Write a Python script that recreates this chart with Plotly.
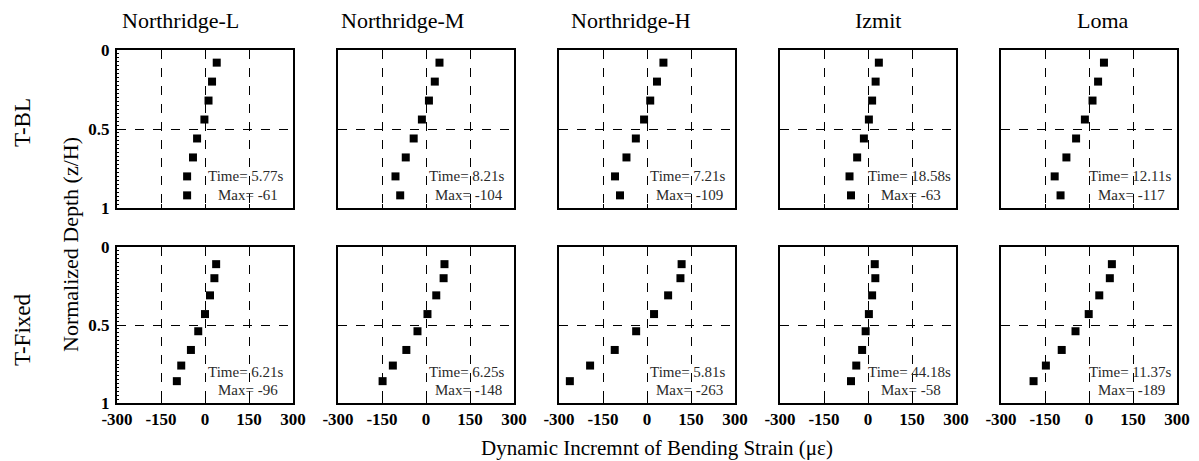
import plotly.graph_objects as pgo
from plotly.subplots import make_subplots

quakes = ["Northridge-L", "Northridge-M", "Northridge-H", "Izmit", "Loma"]
rows_lbl = ["T-BL", "T-Fixed"]

depth_bl = [0.08, 0.20, 0.32, 0.44, 0.56, 0.68, 0.80, 0.92]
depth_fx = [0.11, 0.20, 0.31, 0.43, 0.54, 0.66, 0.76, 0.86]

strain_bl = [
    [40, 24, 12, -2, -27, -41, -61, -61],
    [46, 30, 10, -14, -42, -69, -104, -88],
    [56, 34, 11, -10, -38, -70, -109, -92],
    [37, 26, 14, 3, -14, -37, -63, -58],
    [51, 31, 12, -14, -44, -77, -117, -97],
]
strain_fx = [
    [38, 32, 17, 0, -23, -48, -81, -96],
    [63, 60, 35, 5, -29, -67, -113, -148],
    [118, 114, 72, 24, -37, -110, -194, -263],
    [23, 25, 14, 3, -8, -20, -40, -58],
    [78, 71, 35, -1, -46, -93, -147, -189],
]
time_bl = ["5.77s", "8.21s", "7.21s", "18.58s", "12.11s"]
max_bl = [-61, -104, -109, -63, -117]
time_fx = ["6.21s", "6.25s", "5.81s", "44.18s", "11.37s"]
max_fx = [-96, -148, -263, -58, -189]

x_ticks = [-300, -150, 0, 150, 300]
x_ticktext = ["-300", "-150", "0", "150", "300"]
y_ticks = [0, 0.5, 1]
y_ticktext = ["0", "0.5", "1"]

# the page body adds an 8px margin, so the figure starts 8px into the window
OFF = 8
W, H = 1199, 461
ML, MT = 117 - OFF, 50 - OFF
MR, MB = W - (1178 - OFF), H - (403 - OFF)
PW, PH = W - ML - MR, H - MT - MB


def px(x):
    return (x - OFF - ML) / PW


def py(y):
    return (H - (y - OFF) - MB) / PH


fig = make_subplots(rows=2, cols=5)

serif = "Liberation Serif"
for r, (depths, strains, times, maxes) in enumerate(
    [(depth_bl, strain_bl, time_bl, max_bl), (depth_fx, strain_fx, time_fx, max_fx)]
):
    for c in range(5):
        fig.add_trace(
            pgo.Scatter(
                x=strains[c], y=depths, mode="markers",
                marker=dict(symbol="square", size=8, color="black"),
                showlegend=False,
            ),
            row=r + 1, col=c + 1,
        )
        idx = r * 5 + c + 1
        xa = "x" if idx == 1 else f"x{idx}"
        ya = "y" if idx == 1 else f"y{idx}"
        fig.add_annotation(x=140, y=0.80, xref=xa, yref=ya, text=f"Time= {times[c]}",
                           xanchor="center", yanchor="middle", showarrow=False,
                           font=dict(family=serif, size=15, color="#2a2a2a"))
        fig.add_annotation(x=145, y=0.915, xref=xa, yref=ya, text=f"Max= {maxes[c]}",
                           xanchor="center", yanchor="middle", showarrow=False,
                           font=dict(family=serif, size=15, color="#2a2a2a"))

        left = px(117 + 221 * c)
        right = px(117 + 221 * c + 176)
        if r == 0:
            ydom = [py(208), 1.0]
        else:
            ydom = [0.0, py(247)]
        fig.update_xaxes(
            domain=[left, right], range=[-300, 300], tickvals=x_ticks, ticktext=x_ticktext,
            showticklabels=(r == 1), showgrid=True, gridcolor="black",
            griddash="dash", gridwidth=1.3, zeroline=False,
            showline=True, linecolor="black", linewidth=2, mirror="ticks",
            ticks="inside", ticklen=4, tickcolor="black",
            tickfont=dict(family=serif, size=17, color="black", weight="bold"),
            row=r + 1, col=c + 1,
        )
        fig.update_yaxes(
            domain=ydom, range=[1, 0], tickvals=[0.5], ticktext=["0.5"],
            showticklabels=False, showgrid=True, gridcolor="black",
            griddash="dash", gridwidth=1.3, zeroline=False,
            showline=True, linecolor="black", linewidth=2, mirror=True,
            ticks="",
            row=r + 1, col=c + 1,
        )
        if c == 0:
            fig.update_yaxes(
                tickvals=y_ticks, ticktext=y_ticktext, showticklabels=True,
                ticks="inside", ticklen=3, tickcolor="black", ticklabelstandoff=2,
                minor=dict(tickmode="linear", tick0=0, dtick=0.025, ticks="inside",
                           ticklen=2, tickcolor="black", showgrid=False),
                tickfont=dict(family=serif, size=17, color="black", weight="bold"),
                row=r + 1, col=c + 1,
            )

title_px = [180, 402, 631, 878, 1103]
for name, tx in zip(quakes, title_px):
    fig.add_annotation(x=px(tx), y=py(21), xref="paper", yref="paper",
                       text=name, showarrow=False, xanchor="center", yanchor="middle",
                       font=dict(family=serif, size=22, color="black"))

for lbl, ty in zip(rows_lbl, [123, 330]):
    fig.add_annotation(x=px(22), y=py(ty), xref="paper", yref="paper",
                       text=lbl, showarrow=False, textangle=-90,
                       xanchor="center", yanchor="middle",
                       font=dict(family=serif, size=23, color="black"))

fig.add_annotation(x=px(70), y=py(245), xref="paper", yref="paper",
                   text="Normalized Depth (z/H)", showarrow=False, textangle=-90,
                   xanchor="center", yanchor="middle",
                   font=dict(family=serif, size=22, color="black"))
fig.add_annotation(x=px(657), y=py(448), xref="paper", yref="paper",
                   text="Dynamic Incremnt of Bending Strain (\u03bc\u03b5)", showarrow=False,
                   xanchor="center", yanchor="middle",
                   font=dict(family=serif, size=21, color="black"))

fig.update_layout(
    width=W, height=H, margin=dict(l=ML, r=MR, t=MT, b=MB),
    plot_bgcolor="white", paper_bgcolor="white",
)
fig.write_html("out.html")
